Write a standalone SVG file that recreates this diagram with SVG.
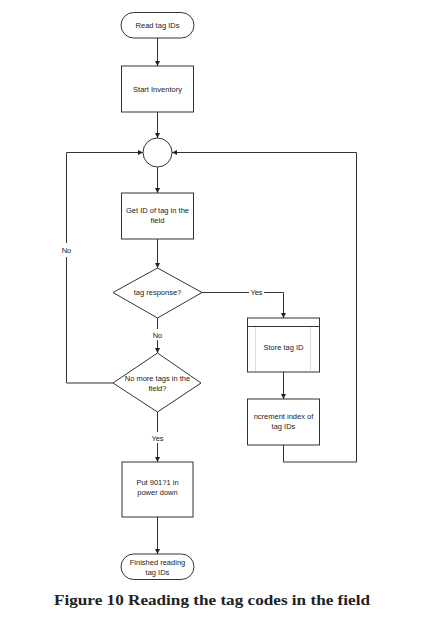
<svg xmlns="http://www.w3.org/2000/svg" width="434" height="620" viewBox="0 0 434 620">
<style>
.s{fill:#fff;stroke:#333;stroke-width:1}
.t{font-family:"Liberation Sans",Arial,sans-serif;font-size:7.5px;fill:#222;text-anchor:middle}
.c{fill:none;stroke:#333;stroke-width:1}
.f{stroke:#ddd;stroke-width:1}
</style>
<defs>
<marker id="a" viewBox="0 0 10 10" refX="10" refY="5" markerWidth="5" markerHeight="5" orient="auto" markerUnits="userSpaceOnUse"><path d="M0,0 L10,5 L0,10 z" fill="#222"/></marker>
</defs>
<rect width="434" height="620" fill="#fff"/>
<g id="connectors">
<path class="c" d="M157.5,38 V66" marker-end="url(#a)"/>
<path class="c" d="M157.5,112 V138" marker-end="url(#a)"/>
<path class="c" d="M157.5,166 V193" marker-end="url(#a)"/>
<path class="c" d="M157.5,239 V268" marker-end="url(#a)"/>
<path class="c" d="M202,292.5 H249 M264,292.5 H283.5 V318" marker-end="url(#a)"/>
<path class="c" d="M157.5,318 V329 M157.5,340 V353" marker-end="url(#a)"/>
<path class="c" d="M157.5,412 V432 M157.5,443 V462" marker-end="url(#a)"/>
<path class="c" d="M157.5,517 V554" marker-end="url(#a)"/>
<path class="c" d="M283.5,372 V399" marker-end="url(#a)"/>
<path class="c" d="M283.5,445 V462 H356.5 V152.5 H172" marker-end="url(#a)"/>
<path class="c" d="M113,383 H66.5 V257 M66.5,243 V152.5 H143" marker-end="url(#a)"/>
<text class="t" x="256.5" y="295">Yes</text>
<text class="t" x="157.5" y="337.5">No</text>
<text class="t" x="157.5" y="440.5">Yes</text>
<text class="t" x="66.5" y="252.5">No</text>
</g>
<g id="read">
<rect class="s" x="121" y="12.5" width="73" height="25.5" rx="12.75"/>
<text class="t" x="157.5" y="28">Read tag IDs</text>
</g>
<g id="start">
<rect class="s" x="121.5" y="66" width="72" height="46"/>
<text class="t" x="157.5" y="91.5">Start Inventory</text>
</g>
<g id="join">
<circle class="s" cx="157.5" cy="152.5" r="14.5"/>
</g>
<g id="getid">
<rect class="s" x="121.5" y="193" width="72" height="46"/>
<text class="t" x="157.5" y="213">Get ID of tag in the</text>
<text class="t" x="157.5" y="223">field</text>
</g>
<g id="resp">
<polygon class="s" points="157.5,268 202,292.5 157.5,318 113,292.5"/>
<text class="t" x="157.5" y="295">tag response?</text>
</g>
<g id="more">
<polygon class="s" points="157.5,353 201,383 157.5,412 113,383"/>
<text class="t" x="157.5" y="381">No more tags in the</text>
<text class="t" x="157.5" y="390.5">field?</text>
</g>
<g id="store">
<rect class="s" x="247.5" y="318" width="72" height="54"/>
<line class="f" x1="255.5" y1="327" x2="255.5" y2="371"/>
<line class="f" x1="310.5" y1="327" x2="310.5" y2="371"/>
<line class="c" x1="247.5" y1="326.5" x2="319.5" y2="326.5"/>
<text class="t" x="283.5" y="350">Store tag ID</text>
</g>
<g id="incr">
<rect class="s" x="247.5" y="399" width="72" height="46"/>
<text class="t" x="283.5" y="418.5">ncrement index of</text>
<text class="t" x="283.5" y="429">tag IDs</text>
</g>
<g id="put">
<rect class="s" x="122" y="462" width="71" height="55"/>
<text class="t" x="157.5" y="485">Put 901?1 in</text>
<text class="t" x="157.5" y="495">power down</text>
</g>
<g id="finished">
<rect class="s" x="121" y="554" width="73" height="25.5" rx="12.75"/>
<text class="t" x="157.5" y="564.5">Finished reading</text>
<text class="t" x="157.5" y="574.5">tag IDs</text>
</g>
<text x="54" y="605" font-family="'Liberation Serif','Times New Roman',serif" font-weight="bold" font-size="15" fill="#222" textLength="316" lengthAdjust="spacingAndGlyphs">Figure 10 Reading the tag codes in the field</text>
</svg>
